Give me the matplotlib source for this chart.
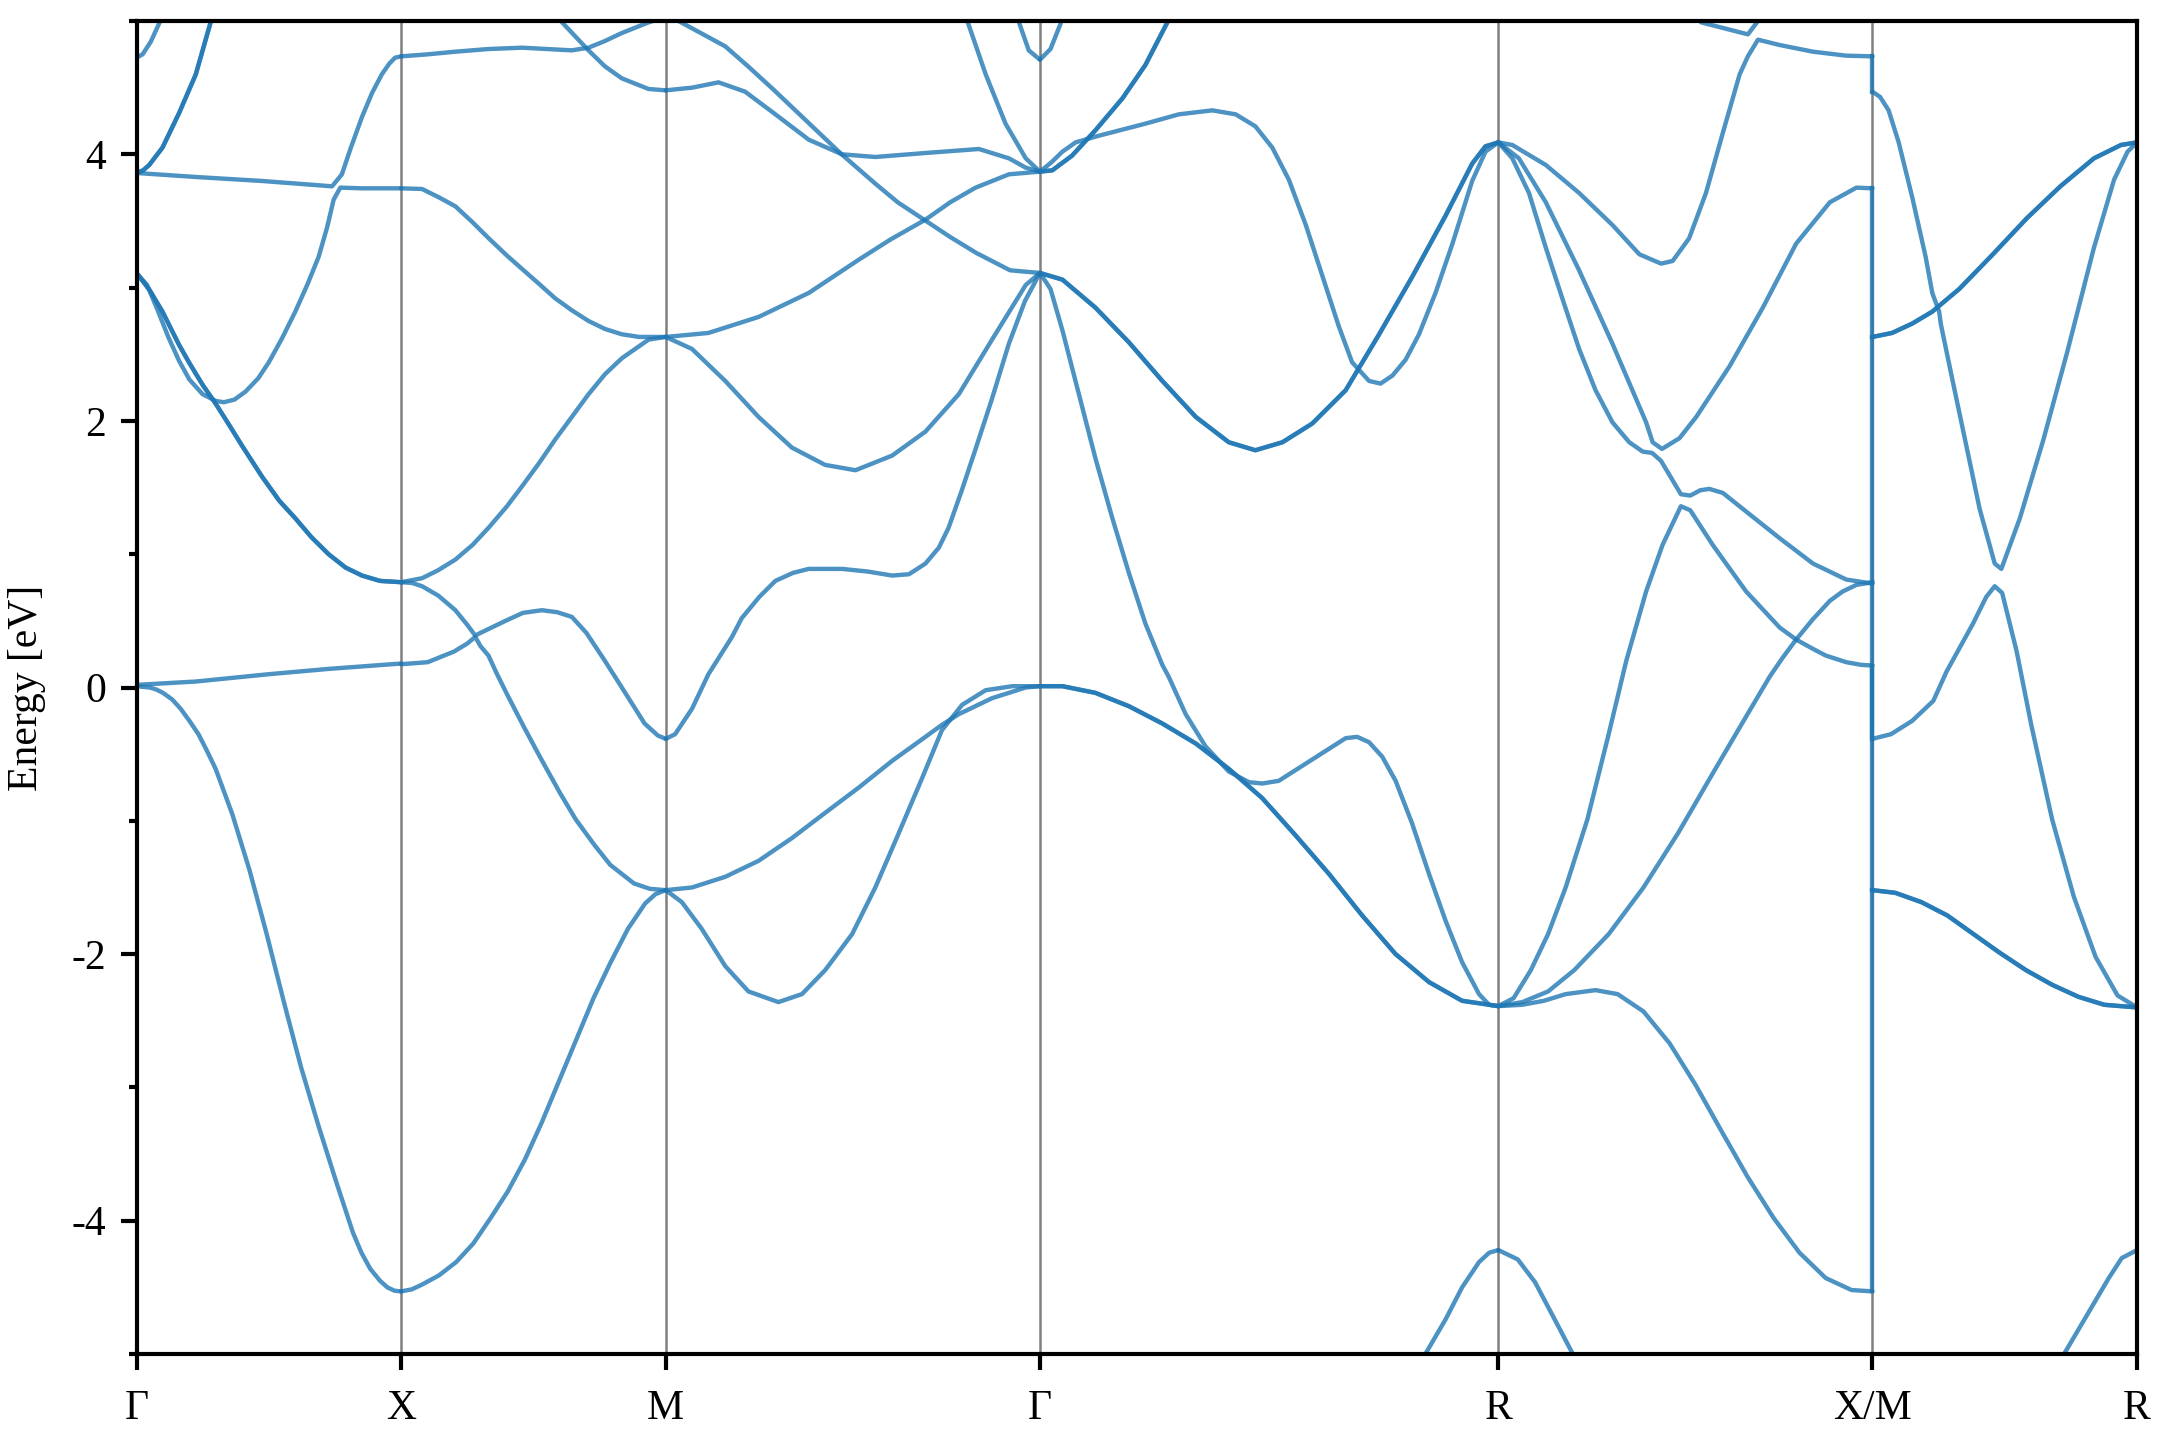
import numpy as np
import matplotlib
matplotlib.use("Agg")
import matplotlib.pyplot as plt
from matplotlib.ticker import MultipleLocator

# ---------------- data ----------------
# high-symmetry points and their positions along the k-path
k_labels = ["Γ", "X", "M", "Γ", "R", "X/M", "R"]
k_ticks = [0.0, 1.0, 2.0, 3.414, 5.146, 6.560, 7.560]

# each band: (degeneracy, [(t, E), ...]) with t the fraction along the segment
GX_bands = [
    (1, [(0, 4.725), (0.023, 4.75), (0.054, 4.845), (0.085, 4.98), (0.10, 5.05)]),
    (2, [(0, 3.86), (0.025, 3.88), (0.048, 3.92), (0.098, 4.05), (0.161, 4.31),
         (0.224, 4.60), (0.28, 4.99), (0.29, 5.05)]),
    (1, [(0, 3.86), (0.224, 3.83), (0.475, 3.80), (0.739, 3.76), (0.776, 3.85),
         (0.81, 4.05), (0.852, 4.28), (0.89, 4.46), (0.927, 4.60), (0.955, 4.68),
         (0.977, 4.725), (1, 4.735)]),
    (1, [(0, 3.11), (0.04, 3.02), (0.08, 2.83), (0.12, 2.63), (0.161, 2.45),
         (0.2, 2.31), (0.25, 2.20), (0.30, 2.15), (0.33, 2.14), (0.37, 2.16),
         (0.412, 2.22), (0.46, 2.32), (0.5, 2.44), (0.55, 2.62), (0.6, 2.82),
         (0.645, 3.02), (0.688, 3.23), (0.72, 3.45), (0.745, 3.66), (0.77, 3.75),
         (0.852, 3.745), (1, 3.745)]),
    (2, [(0, 3.11), (0.05, 2.98), (0.098, 2.82), (0.161, 2.57), (0.198, 2.44),
         (0.25, 2.27), (0.299, 2.13), (0.35, 1.97), (0.4, 1.81), (0.475, 1.58),
         (0.54, 1.40), (0.6, 1.27), (0.66, 1.13), (0.726, 1.00), (0.79, 0.90),
         (0.852, 0.84), (0.92, 0.80), (1, 0.79)]),
    (1, [(0, 0.02), (0.224, 0.045), (0.5, 0.10), (0.727, 0.14), (1, 0.18)]),
    (1, [(0, 0.01), (0.05, 0.0), (0.075, -0.015), (0.10, -0.04), (0.135, -0.09),
         (0.167, -0.16), (0.20, -0.25), (0.234, -0.35), (0.265, -0.47),
         (0.299, -0.61), (0.362, -0.95), (0.427, -1.37), (0.492, -1.85),
         (0.557, -2.36), (0.622, -2.85), (0.688, -3.29), (0.755, -3.71),
         (0.818, -4.09), (0.85, -4.24), (0.883, -4.36), (0.92, -4.45),
         (0.948, -4.50), (0.975, -4.525), (1, -4.53)]),
]

XM_bands = [
    (1, [(0, 4.735), (0.1, 4.75), (0.205, 4.77), (0.33, 4.79), (0.457, 4.80),
         (0.55, 4.79), (0.645, 4.78), (0.708, 4.80), (0.77, 4.85), (0.834, 4.91),
         (0.935, 4.99), (1, 5.03)]),
    (1, [(0.58, 5.05), (0.608, 4.99), (0.708, 4.78), (0.77, 4.66), (0.834, 4.57),
         (0.935, 4.49), (1, 4.48)]),
    (1, [(0, 3.745), (0.079, 3.74), (0.14, 3.68), (0.205, 3.61), (0.27, 3.49),
         (0.331, 3.37), (0.4, 3.24), (0.457, 3.14), (0.52, 3.03), (0.582, 2.92),
         (0.645, 2.83), (0.708, 2.75), (0.77, 2.69), (0.834, 2.65), (0.9, 2.63),
         (1, 2.63)]),
    (1, [(0, 0.79), (0.079, 0.82), (0.14, 0.88), (0.205, 0.96), (0.27, 1.07),
         (0.331, 1.20), (0.4, 1.36), (0.457, 1.51), (0.52, 1.68), (0.582, 1.86),
         (0.645, 2.03), (0.708, 2.20), (0.77, 2.35), (0.834, 2.47), (0.935, 2.61),
         (1, 2.63)]),
    (1, [(0, 0.175), (0.1, 0.19), (0.2, 0.27), (0.25, 0.33), (0.28, 0.38),
         (0.30, 0.31), (0.33, 0.24), (0.36, 0.11), (0.40, -0.05), (0.465, -0.30),
         (0.53, -0.54), (0.6, -0.79), (0.66, -0.99), (0.73, -1.18), (0.79, -1.33),
         (0.88, -1.47), (0.94, -1.51), (1, -1.52)]),
    (1, [(0, 0.79), (0.04, 0.785), (0.079, 0.76), (0.14, 0.69), (0.205, 0.58),
         (0.25, 0.47), (0.28, 0.39), (0.30, 0.41), (0.394, 0.50), (0.46, 0.56),
         (0.532, 0.58), (0.59, 0.565), (0.645, 0.53), (0.70, 0.41), (0.77, 0.20),
         (0.85, -0.05), (0.92, -0.27), (0.97, -0.36), (1, -0.385)]),
    (1, [(0, -4.53), (0.04, -4.515), (0.078, -4.48), (0.143, -4.41), (0.208, -4.31),
         (0.273, -4.17), (0.338, -3.98), (0.403, -3.78), (0.468, -3.54),
         (0.532, -3.26), (0.597, -2.95), (0.662, -2.64), (0.727, -2.33),
         (0.792, -2.06), (0.857, -1.81), (0.922, -1.62), (0.961, -1.55), (1, -1.52)]),
]

MG_bands = [
    (1, [(0, 5.03), (0.034, 5.0), (0.1, 4.90), (0.159, 4.81), (0.22, 4.66),
         (0.29, 4.48), (0.38, 4.24), (0.47, 4.0), (0.56, 3.78), (0.62, 3.64),
         (0.69, 3.51), (0.76, 3.38), (0.83, 3.26), (0.92, 3.13), (1, 3.11)]),
    (1, [(0, 4.48), (0.07, 4.50), (0.141, 4.54), (0.212, 4.47), (0.293, 4.30),
         (0.382, 4.11), (0.471, 4.00), (0.56, 3.98), (0.694, 4.01), (0.837, 4.04),
         (0.917, 3.97), (0.962, 3.90), (1, 3.87)]),
    (1, [(0.79, 5.05), (0.806, 5.0), (0.855, 4.60), (0.908, 4.23), (0.962, 3.97),
         (1, 3.87)]),
    (1, [(0.935, 5.05), (0.944, 4.99), (0.97, 4.78), (1, 4.71)]),
    (1, [(0, 2.63), (0.114, 2.66), (0.248, 2.78), (0.382, 2.96), (0.516, 3.21),
         (0.6, 3.36), (0.694, 3.51), (0.76, 3.64), (0.828, 3.75), (0.917, 3.85),
         (1, 3.87)]),
    (1, [(0, 2.63), (0.07, 2.54), (0.159, 2.30), (0.248, 2.03), (0.337, 1.80),
         (0.426, 1.67), (0.507, 1.63), (0.605, 1.74), (0.694, 1.92), (0.783, 2.20),
         (0.872, 2.61), (0.962, 3.02), (1, 3.11)]),
    (1, [(0, -0.385), (0.025, -0.35), (0.07, -0.16), (0.114, 0.10), (0.177, 0.38),
         (0.203, 0.52), (0.25, 0.68), (0.293, 0.80), (0.34, 0.86), (0.382, 0.89),
         (0.471, 0.89), (0.54, 0.87), (0.605, 0.84), (0.65, 0.85), (0.694, 0.93),
         (0.73, 1.05), (0.756, 1.20), (0.79, 1.47), (0.828, 1.79), (0.87, 2.15),
         (0.917, 2.58), (0.96, 2.90), (1, 3.11)]),
    (1, [(0, -1.52), (0.07, -1.50), (0.159, -1.42), (0.248, -1.30), (0.337, -1.13),
         (0.426, -0.94), (0.516, -0.75), (0.605, -0.55), (0.694, -0.37),
         (0.738, -0.28), (0.783, -0.20), (0.872, -0.08), (0.962, 0.0), (1, 0.01)]),
    (1, [(0, -1.52), (0.043, -1.61), (0.096, -1.81), (0.159, -2.09), (0.221, -2.28),
         (0.301, -2.36), (0.364, -2.30), (0.426, -2.12), (0.498, -1.85),
         (0.56, -1.50), (0.623, -1.09), (0.685, -0.68), (0.738, -0.32),
         (0.792, -0.13), (0.855, -0.02), (0.926, 0.01), (1, 0.01)]),
]

GR_bands = [
    (1, [(0, 4.71), (0.023, 4.79), (0.045, 4.98), (0.05, 5.05)]),
    (2, [(0, 3.87), (0.027, 3.88), (0.07, 3.99), (0.121, 4.18), (0.18, 4.42),
         (0.23, 4.67), (0.278, 4.99), (0.285, 5.05)]),
    (1, [(0, 3.87), (0.025, 3.94), (0.049, 4.02), (0.078, 4.09), (0.129, 4.14),
         (0.23, 4.23), (0.303, 4.30), (0.376, 4.33), (0.427, 4.30), (0.47, 4.21),
         (0.507, 4.05), (0.543, 3.81), (0.58, 3.47), (0.616, 3.09), (0.652, 2.71),
         (0.681, 2.44), (0.718, 2.30), (0.743, 2.28), (0.769, 2.34), (0.798, 2.46),
         (0.827, 2.65), (0.863, 2.96), (0.9, 3.33), (0.943, 3.80), (0.972, 4.02),
         (1, 4.09)]),
    (2, [(0, 3.11), (0.049, 3.06), (0.121, 2.85), (0.194, 2.59), (0.267, 2.30),
         (0.34, 2.03), (0.412, 1.84), (0.47, 1.78), (0.529, 1.84), (0.594, 1.98),
         (0.667, 2.23), (0.74, 2.65), (0.812, 3.08), (0.885, 3.54), (0.943, 3.93),
         (0.972, 4.06), (1, 4.09)]),
    (1, [(0, 3.11), (0.023, 2.99), (0.049, 2.68), (0.085, 2.20), (0.121, 1.72),
         (0.158, 1.27), (0.194, 0.86), (0.23, 0.48), (0.267, 0.17), (0.281, 0.08),
         (0.318, -0.20), (0.361, -0.44), (0.412, -0.63), (0.456, -0.71),
         (0.485, -0.72), (0.521, -0.70), (0.594, -0.54), (0.667, -0.38),
         (0.692, -0.37), (0.718, -0.41), (0.747, -0.52), (0.776, -0.70),
         (0.812, -1.02), (0.849, -1.40), (0.885, -1.75), (0.921, -2.06),
         (0.958, -2.30), (0.98, -2.38), (1, -2.39)]),
    (2, [(0, 0.01), (0.049, 0.01), (0.121, -0.04), (0.194, -0.14), (0.267, -0.27),
         (0.34, -0.42), (0.412, -0.61), (0.485, -0.83), (0.558, -1.11),
         (0.631, -1.40), (0.703, -1.71), (0.776, -2.00), (0.849, -2.21),
         (0.921, -2.35), (1, -2.39)]),
    (1, [(0.825, -5.08), (0.834, -5.04), (0.885, -4.74), (0.921, -4.50),
         (0.958, -4.31), (0.98, -4.24), (1, -4.22)]),
]

RX_bands = [
    (1, [(0, 4.09), (0.0375, 4.07), (0.127, 3.92), (0.216, 3.71), (0.305, 3.47),
         (0.377, 3.25), (0.435, 3.18), (0.466, 3.20), (0.51, 3.37), (0.555, 3.71),
         (0.6, 4.16), (0.645, 4.60), (0.667, 4.735), (0.694, 4.86), (0.752, 4.82),
         (0.841, 4.77), (0.93, 4.74), (1, 4.735)]),
    (1, [(0.52, 5.05), (0.542, 4.99), (0.667, 4.90), (0.694, 5.0), (0.705, 5.05)]),
    (1, [(0, 4.09), (0.055, 3.97), (0.127, 3.64), (0.216, 3.13), (0.305, 2.58),
         (0.395, 1.99), (0.4125, 1.84), (0.4375, 1.79), (0.484, 1.87), (0.529, 2.03),
         (0.618, 2.41), (0.707, 2.85), (0.796, 3.33), (0.886, 3.64), (0.957, 3.75),
         (1, 3.745)]),
    (1, [(0, 4.09), (0.0375, 3.97), (0.082, 3.71), (0.127, 3.30), (0.171, 2.92),
         (0.216, 2.54), (0.26, 2.23), (0.305, 1.99), (0.35, 1.84), (0.386, 1.77),
         (0.411, 1.76), (0.435, 1.70), (0.488, 1.45), (0.513, 1.44), (0.54, 1.48),
         (0.564, 1.49), (0.6, 1.46), (0.6625, 1.32), (0.752, 1.12), (0.841, 0.93),
         (0.93, 0.81), (1, 0.78)]),
    (1, [(0, -2.39), (0.041, -2.33), (0.087, -2.12), (0.133, -1.85), (0.18, -1.50),
         (0.238, -0.99), (0.295, -0.35), (0.342, 0.20), (0.395, 0.72),
         (0.439, 1.07), (0.488, 1.36), (0.513, 1.33), (0.573, 1.07),
         (0.6625, 0.72), (0.752, 0.45), (0.796, 0.36), (0.841, 0.29),
         (0.875, 0.24), (0.93, 0.19), (0.97, 0.17), (1, 0.165)]),
    (1, [(0, -2.39), (0.064, -2.36), (0.133, -2.28), (0.203, -2.12), (0.295, -1.85),
         (0.388, -1.50), (0.481, -1.09), (0.574, -0.64), (0.666, -0.20),
         (0.725, 0.08), (0.759, 0.22), (0.796, 0.36), (0.84, 0.51), (0.886, 0.65),
         (0.92, 0.72), (0.957, 0.77), (1, 0.79)]),
    (1, [(0, -2.39), (0.064, -2.38), (0.122, -2.35), (0.18, -2.30), (0.26, -2.27),
         (0.319, -2.30), (0.388, -2.43), (0.458, -2.67), (0.527, -2.98),
         (0.597, -3.33), (0.666, -3.67), (0.736, -3.98), (0.805, -4.24),
         (0.875, -4.43), (0.944, -4.52), (1, -4.53)]),
    (1, [(0, -4.22), (0.052, -4.29), (0.098, -4.46), (0.145, -4.71),
         (0.203, -5.02), (0.21, -5.06)]),
]

MR_bands = [
    (1, [(0, 4.47), (0.029, 4.43), (0.061, 4.33), (0.099, 4.09), (0.15, 3.68),
         (0.201, 3.23), (0.226, 2.96), (0.252, 2.82), (0.258, 2.73), (0.303, 2.30),
         (0.354, 1.82), (0.405, 1.34), (0.462, 0.93), (0.487, 0.89), (0.557, 1.27),
         (0.646, 1.86), (0.735, 2.51), (0.837, 3.30), (0.913, 3.81), (0.964, 4.02),
         (1, 4.09)]),
    (2, [(0, 2.63), (0.074, 2.66), (0.15, 2.73), (0.226, 2.82), (0.328, 2.99),
         (0.455, 3.25), (0.583, 3.52), (0.71, 3.76), (0.837, 3.97), (0.939, 4.07),
         (1, 4.09)]),
    (1, [(0, -0.385), (0.07, -0.35), (0.15, -0.25), (0.23, -0.10), (0.28, 0.12),
         (0.33, 0.30), (0.38, 0.48), (0.43, 0.68), (0.462, 0.76), (0.49, 0.71),
         (0.545, 0.27), (0.60, -0.28), (0.679, -0.99), (0.761, -1.57),
         (0.843, -2.02), (0.926, -2.31), (1, -2.40)]),
    (2, [(0, -1.52), (0.086, -1.54), (0.185, -1.61), (0.283, -1.71), (0.382, -1.85),
         (0.481, -1.99), (0.58, -2.12), (0.679, -2.23), (0.778, -2.32),
         (0.876, -2.38), (1, -2.40)]),
    (1, [(0.70, -5.08), (0.712, -5.04), (0.81, -4.71), (0.893, -4.43),
         (0.942, -4.28), (1, -4.22)]),
]

segments = [GX_bands, XM_bands, MG_bands, GR_bands, RX_bands, MR_bands]

# band energies at X (end of R-X) joined to the same band at M (start of M-R)
XM_jump_X = [-4.53, 0.165, 0.79, 0.79, 3.745, 4.735]
XM_jump_M = [-1.52, -1.52, -0.385, 2.63, 2.63, 4.47]

# ---------------- plot ----------------
plt.rcParams["font.family"] = ["Liberation Serif", "DejaVu Serif"]
plt.rcParams["axes.unicode_minus"] = False
plt.rcParams["font.size"] = 10

fig = plt.figure(figsize=(7.2, 4.8), dpi=300)
ax = fig.add_axes([0.0632, 0.0597, 0.9262, 0.9257])

band_color = "#1f77b4"
band_alpha = 0.8
band_lw = 1.05

for i, seg in enumerate(segments):
    k0, k1 = k_ticks[i], k_ticks[i + 1]
    for deg, pts in seg:
        t = np.array([p[0] for p in pts])
        e = np.array([p[1] for p in pts])
        x = k0 + t * (k1 - k0)
        for _ in range(deg):
            ax.plot(x, e, color=band_color, lw=band_lw, alpha=band_alpha,
                    solid_joinstyle="round", solid_capstyle="round")

for ex, em in zip(XM_jump_X, XM_jump_M):
    ax.plot([k_ticks[5], k_ticks[5]], [ex, em], color=band_color, lw=band_lw,
            alpha=band_alpha)

for k in k_ticks[1:-1]:
    ax.axvline(k, color="#808080", lw=0.6, zorder=0)

ax.set_xlim(k_ticks[0], k_ticks[-1])
ax.set_ylim(-5, 5)
ax.set_xticks(k_ticks)
ax.set_xticklabels(k_labels)
ax.yaxis.set_major_locator(MultipleLocator(2))
ax.yaxis.set_minor_locator(MultipleLocator(1))
ax.set_ylabel("Energy [eV]", labelpad=6)

for s in ax.spines.values():
    s.set_linewidth(1.0)
ax.tick_params(axis="both", which="major", direction="out", length=3.8, width=1.0,
               top=False, right=False)
ax.tick_params(axis="x", which="major", pad=4.6)
ax.tick_params(axis="y", which="minor", direction="out", length=1.9, width=1.0,
               right=False)

fig.savefig("out.png", dpi=300)
